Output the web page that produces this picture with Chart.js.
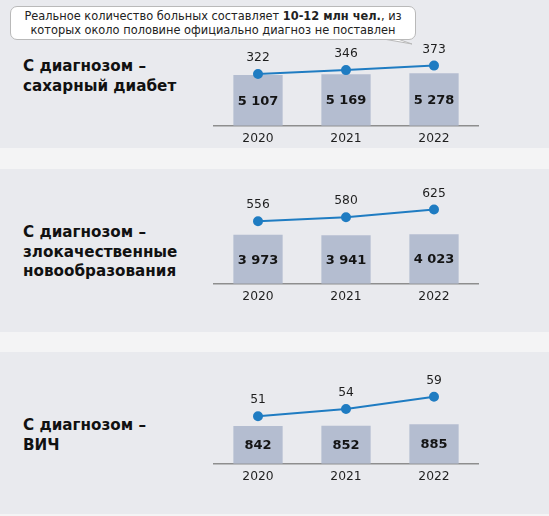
<!DOCTYPE html>
<html>
<head>
<meta charset="utf-8">
<script src="https://cdn.jsdelivr.net/npm/chart.js@4.4.1/dist/chart.umd.min.js"></script>
<style>
  html, body { margin: 0; padding: 0; }
  body { width: 549px; height: 516px; background: #f4f4f5; position: relative; overflow: hidden;
         font-family: "DejaVu Sans", Verdana, sans-serif; color: #1a1a1a; }
  .panel { position: absolute; left: 0; width: 549px; background: #e9eaee; }
  .title { position: absolute; left: 23px; font-weight: bold; font-size: 15.2px; line-height: 19.5px; color: #111; }
  canvas { position: absolute; left: 0; }
  .note { position: absolute; left: 10px; top: 6px; width: 404px; height: 30px; background: #fff;
          border: 1px solid #b9b9b9; border-radius: 7px; font-size: 11.4px; line-height: 14px;
          text-align: center; padding-top: 2px; color: #222; }
  .tail { position: absolute; left: 0; top: 0; }
</style>
</head>
<body>
<div class="panel" style="top:0;height:148px"></div>
<div class="panel" style="top:169px;height:163px"></div>
<div class="panel" style="top:352px;height:162px"></div>

<svg class="tail" width="549" height="60">
  <polygon points="372,37 412,44 392,37" fill="#fff" stroke="#b9b9b9" stroke-width="1"/>
</svg>
<div class="note">Реальное количество больных составляет <b>10-12 млн чел.</b>, из<br>которых около половине официально диагноз не поставлен</div>
<svg class="tail" width="549" height="60">
  <line x1="373" y1="38" x2="392" y2="38" stroke="#fff" stroke-width="2"/>
</svg>

<div class="title" style="top:57px">С диагнозом –<br>сахарный диабет</div>
<div class="title" style="top:223px">С диагнозом –<br>злокачественные<br>новообразования</div>
<div class="title" style="top:416px">С диагнозом –<br>ВИЧ</div>

<canvas id="chartDiabetes" width="549" height="158" style="top:0"></canvas>
<canvas id="chartCancer" width="549" height="173" style="top:169px"></canvas>
<canvas id="chartHiv" width="549" height="164" style="top:352px"></canvas>

<script>
const years = ['2020', '2021', '2022'];

const diabetesTotal = [5107, 5169, 5278];
const diabetesNew = [322, 346, 373];

const cancerTotal = [3973, 3941, 4023];
const cancerNew = [556, 580, 625];

const hivTotal = [842, 852, 885];
const hivNew = [51, 54, 59];

const fontFamily = '"DejaVu Sans", Verdana, sans-serif';
const axisHeight = 24.6;

function fmt(v) {
    return String(v).replace(/\B(?=(\d{3})+(?!\d))/g, ' ');
}

// подписи значений: в столбцах жирным, над точками обычным
const valueLabels = {
    id: 'valueLabels',
    afterDatasetsDraw(chart) {
        const ctx = chart.ctx;
        ctx.save();
        ctx.textAlign = 'center';
        ctx.textBaseline = 'middle';
        chart.data.datasets.forEach(function(ds, i) {
            const meta = chart.getDatasetMeta(i);
            meta.data.forEach(function(el, j) {
                if (ds.type === 'bar') {
                    const p = el.getProps(['x', 'y', 'base'], true);
                    ctx.font = 'bold 13px ' + fontFamily;
                    ctx.fillStyle = '#141414';
                    ctx.fillText(fmt(ds.data[j]), p.x, (p.y + p.base) / 2 + 1);
                } else {
                    ctx.font = '12.3px ' + fontFamily;
                    ctx.fillStyle = '#1e1e1e';
                    ctx.fillText(fmt(ds.data[j]), el.x, el.y - 16);
                }
            });
        });
        ctx.restore();
    }
};

function makeChart(id, totals, news, barMax, lineMin, lineMax, axisY) {
    const canvas = document.getElementById(id);
    const ctx = canvas.getContext('2d');
    return new Chart(ctx, {
        data: {
            labels: years,
            datasets: [{
                type: 'line',
                data: news,
                yAxisID: 'y2',
                order: 0,
                borderColor: '#1f7cc2',
                backgroundColor: '#1f7cc2',
                borderWidth: 2,
                pointRadius: 4,
                pointHoverRadius: 4,
                fill: false,
                tension: 0
            }, {
                type: 'bar',
                data: totals,
                yAxisID: 'y',
                order: 1,
                backgroundColor: '#b4bdd0',
                barPercentage: 0.56,
                categoryPercentage: 1
            }]
        },
        options: {
            responsive: false,
            animation: false,
            events: [],
            layout: { padding: { left: 214, right: 71, top: 20, bottom: canvas.height - axisY - axisHeight } },
            plugins: { legend: { display: false }, tooltip: { enabled: false } },
            scales: {
                x: {
                    grid: { display: false, drawTicks: false },
                    border: { display: true, color: '#8e8e8e', width: 1.5 },
                    ticks: { color: '#1e1e1e', padding: 6, font: { size: 12.3, family: fontFamily } }
                },
                y: { display: false, min: 0, max: barMax },
                y2: { display: false, min: lineMin, max: lineMax }
            }
        },
        plugins: [valueLabels]
    });
}

makeChart('chartDiabetes', diabetesTotal, diabetesNew, 10620, 11, 647, 128);
makeChart('chartCancer', cancerTotal, cancerNew, 7680, 188, 746, 117);
makeChart('chartHiv', hivTotal, hivNew, 2050, 31.4, 69.2, 114);
</script>
</body>
</html>
